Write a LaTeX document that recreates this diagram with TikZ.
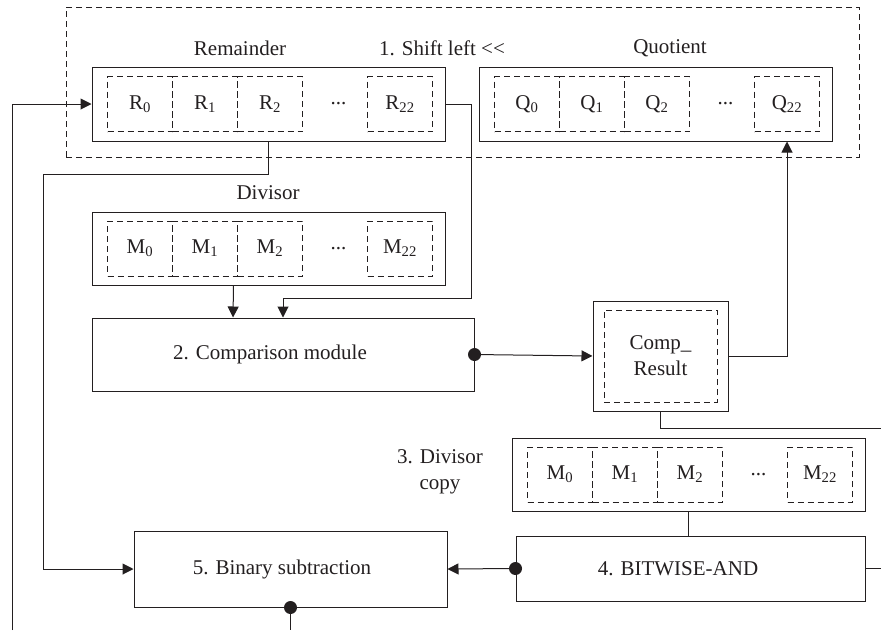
\documentclass[tikz,border=0pt]{standalone}
\usepackage{fontspec}
\setmainfont{Liberation Serif}
\usetikzlibrary{arrows.meta}
\definecolor{ink}{RGB}{35, 31, 32}

\tikzset{
  box/.style={draw=ink, line width=1, minimum width=353, minimum height=74, inner sep=0},
  cell/.style={draw=ink, dash pattern=on 6pt off 4pt, line width=0.9, minimum width=65, minimum height=55, inner sep=0},
  dot/.style={circle, fill=ink, inner sep=0, minimum size=13},
  wire/.style={draw=ink, line width=1}
}

\begin{document}
\begin{tikzpicture}[x=1pt, y=-1pt, >={Triangle[length=11pt, width=11pt]}, font=\fontsize{21}{26}\selectfont, text=ink]
  \useasboundingbox (0, 0) rectangle (881, 630);

  % registers
  \node[draw=ink, dash pattern=on 6pt off 4pt, line width=1, minimum width=793, minimum height=150] (shift) at (462.5, 82) {};
  \node[box] (rem) at (268.5, 104) {};
  \node[box] (quo) at (655.5, 104) {};
  \node[box, minimum height=73] (div) at (268.5, 248.5) {};
  \node[box, minimum height=73] (dcopy) at (688.5, 474.5) {};

  \foreach \b/\l in {rem/R, quo/Q, div/M, dcopy/M} {
    \foreach \i/\dx in {0/48.5, 1/113.5, 2/178.5, 22/308.5}
      \node[cell] (\b-\i) at ([xshift=\dx] \b.west) {\l\textsubscript{\i}};
    \node (\b-dots) at ([xshift=247] \b.west) {...};
  }

  \node (remlab) at (240, 48) {Remainder};
  \node (shiftlab) at (442, 48) {1. Shift left \mbox{<}\mbox{<}};
  \node (quolab) at (670, 48) {Quotient};
  \node (divlab) at (268, 193) {Divisor};
  \node[align=center] (dcopylab) at (440, 472) {3. Divisor\\copy};

  % modules
  \node[box, minimum width=382, minimum height=73] (cmp) at (283, 354.5) {2. Comparison module\hspace*{26pt}};
  \node[draw=ink, line width=1, minimum width=135, minimum height=110] (res) at (660.5, 356) {};
  \node[cell, minimum width=113, minimum height=92, align=center] (res-in) at (res) {Comp\_\\Result};
  \node[box, minimum width=349, minimum height=65] (andm) at (690.5, 568.5) {4. BITWISE-AND\hspace*{25pt}};
  \node[box, minimum width=313, minimum height=76] (sub) at (290.5, 569) {5. Binary subtraction\hspace*{17pt}};

  \node[dot] (cmpout) at (cmp.east) {};
  \node[dot] (andout) at (andm.west) {};
  \node[dot] (subout) at (sub.south) {};

  \coordinate (fb) at (12, 630);
  \coordinate (bus) at (43, 174);
  \coordinate (turn) at (471, 298);
  \coordinate (resout) at (881, 428);
  \coordinate (andend) at (881, 568.5);
  \coordinate (subend) at (290.5, 630);

  % wires
  \draw[wire, ->] (fb) |- (rem.west);
  \draw[wire, ->] (rem.south) |- (bus) |- (sub.west);
  \draw[wire, ->] (rem.east) -| (turn) -| (cmp.north);
  \draw[wire, ->] ([xshift=-35] div.south) -- ([xshift=-50] cmp.north);
  \draw[wire, ->] (cmpout) -- (res.west);
  \draw[wire, ->] (res.east) -| (quo-22.south |- quo.south);
  \draw[wire] (res.south) |- (resout);
  \draw[wire] (dcopy.south) -- (dcopy.south |- andm.north);
  \draw[wire, ->] (andout) -- (sub.east);
  \draw[wire] (andm.east) -- (andend);
  \draw[wire] (subout) -- (subend);
\end{tikzpicture}
\end{document}
